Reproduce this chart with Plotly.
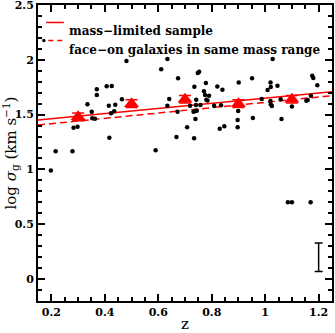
import plotly.graph_objects as go

# individual galaxies (black dots)
gal_z = [0.198, 0.216, 0.279, 0.283, 0.298, 0.335, 0.351, 0.353, 0.363, 0.370,
         0.370, 0.407, 0.426, 0.415, 0.439, 0.417, 0.423, 0.435, 0.464, 0.481,
         0.590, 0.611, 0.634, 0.634, 0.641, 0.668, 0.672, 0.674, 0.708, 0.719,
         0.732, 0.738, 0.744, 0.734, 0.735, 0.739, 0.741, 0.742, 0.748, 0.753,
         0.758, 0.771, 0.775, 0.778, 0.780, 0.784, 0.790, 0.809, 0.821, 0.830,
         0.835, 0.840, 0.847, 0.897, 0.897, 0.899, 0.901, 0.951, 0.954, 0.987,
         1.009, 1.020, 1.021, 1.020, 1.021, 1.025, 1.028, 1.046, 1.058, 1.061,
         1.085, 1.100, 1.170, 1.100, 1.154, 1.159, 1.171, 1.176, 1.180, 1.195]
gal_sig = [0.99, 1.165, 1.165, 1.38, 1.39, 1.594, 1.526, 1.466, 1.463, 1.731,
           1.679, 1.758, 1.761, 1.581, 1.590, 1.289, 1.512, 1.530, 1.640, 1.989,
           1.174, 1.913, 2.007, 1.581, 1.642, 1.296, 1.526, 1.831, 1.384, 1.581,
           1.526, 1.533, 1.536, 1.284, 1.755, 1.460, 1.588, 1.636, 1.880, 1.892,
           1.588, 1.713, 1.679, 1.788, 1.636, 1.630, 1.672, 1.581, 1.757, 1.371,
           1.585, 1.728, 1.393, 1.451, 1.384, 1.533, 1.794, 1.831, 1.469, 1.642,
           1.724, 1.794, 1.752, 1.624, 1.594, 1.578, 2.007, 1.764, 1.640, 1.460,
           0.70, 0.70, 0.70, 1.575, 1.627, 1.633, 1.672, 1.855, 1.834, 1.767]

# binned means (red triangles)
bin_z = [0.3, 0.5, 0.7, 0.9, 1.1]
bin_sig = [1.48, 1.60, 1.64, 1.60, 1.64]
bin_err = [0.035, 0.035, 0.035, 0.035, 0.035]

# fits
fit_z = [0.15, 1.25]
fit_mass = [1.450, 1.709]
fit_faceon = [1.405, 1.673]

# typical error bar
typ_z = [1.2]
typ_sig = [0.2]
typ_err = [0.13]

FONT = "DejaVu Serif"

fig = go.Figure()
fig.add_trace(go.Scatter(x=fit_z, y=fit_mass, mode="lines",
                         line=dict(color="red", width=1.5)))
fig.add_trace(go.Scatter(x=fit_z, y=fit_faceon, mode="lines",
                         line=dict(color="red", width=1.5, dash="7px,4px")))
fig.add_trace(go.Scatter(x=gal_z, y=gal_sig, mode="markers",
                         marker=dict(color="black", size=4.5)))
fig.add_trace(go.Scatter(x=bin_z, y=bin_sig, mode="markers",
                         marker=dict(color="red", size=13, symbol="triangle-up"),
                         error_y=dict(type="data", array=bin_err, color="red",
                                      thickness=1.5, width=6)))
fig.add_trace(go.Scatter(x=typ_z, y=typ_sig, mode="markers",
                         marker=dict(color="rgba(0,0,0,0)", size=1),
                         error_y=dict(type="data", array=typ_err, color="black",
                                      thickness=1.5, width=4)))

# legend drawn by hand in the top-left corner
fig.add_shape(type="line", xref="paper", yref="paper", x0=0.028, x1=0.088,
              y0=0.941, y1=0.941, line=dict(color="red", width=1.5))
fig.add_shape(type="line", xref="paper", yref="paper", x0=0.035, x1=0.088,
              y0=0.880, y1=0.880, line=dict(color="red", width=1.5, dash="5px,4px"))
fig.add_shape(type="circle", xref="paper", yref="paper", x0=0.014, x1=0.026,
              y0=0.874, y1=0.886, fillcolor="black", line=dict(width=0))
fig.add_annotation(x=0.1, y=0.941, xref="paper", yref="paper", xanchor="left",
                   showarrow=False, text="<b>mass−limited sample</b>",
                   font=dict(family=FONT, size=12, color="black"))
fig.add_annotation(x=0.1, y=0.880, xref="paper", yref="paper", xanchor="left",
                   showarrow=False, text="<b>face−on galaxies in same mass range</b>",
                   font=dict(family=FONT, size=12, color="black"))

axis_common = dict(showline=True, linecolor="black", linewidth=2, mirror="allticks",
                   ticks="inside", tickcolor="black", tickwidth=1.5, ticklen=7,
                   showgrid=False, zeroline=False, automargin=False,
                   ticklabeloverflow="allow",
                   tickfont=dict(family=FONT, size=11, color="black", weight="bold"))

fig.update_xaxes(range=[0.15, 1.25], tick0=0.2, dtick=0.2,
                 minor=dict(ticks="inside", dtick=0.05, tick0=0.2, ticklen=4,
                            tickwidth=1.5, tickcolor="black"),
                 title=dict(text="z", font=dict(family=FONT, size=15, color="black"),
                            standoff=0),
                 **axis_common)
fig.update_yaxes(range=[-0.2, 2.5], tick0=0, dtick=0.5,
                 minor=dict(ticks="inside", dtick=0.1, tick0=0, ticklen=4,
                            tickwidth=1.5, tickcolor="black"),
                 title=dict(text="log <i>σ</i><sub>g</sub> (km s<sup>−1</sup>)",
                            font=dict(family=FONT, size=15, color="black"),
                            standoff=0),
                 **axis_common)

fig.update_layout(width=335, height=333, showlegend=False,
                  margin=dict(l=38, r=3, t=5, b=32),
                  paper_bgcolor="white", plot_bgcolor="white")

# drop the page's default body margin so the figure sits at the window corner
fig.write_html("out.html", config={"displayModeBar": False},
               post_script="document.body.style.margin='0';")
